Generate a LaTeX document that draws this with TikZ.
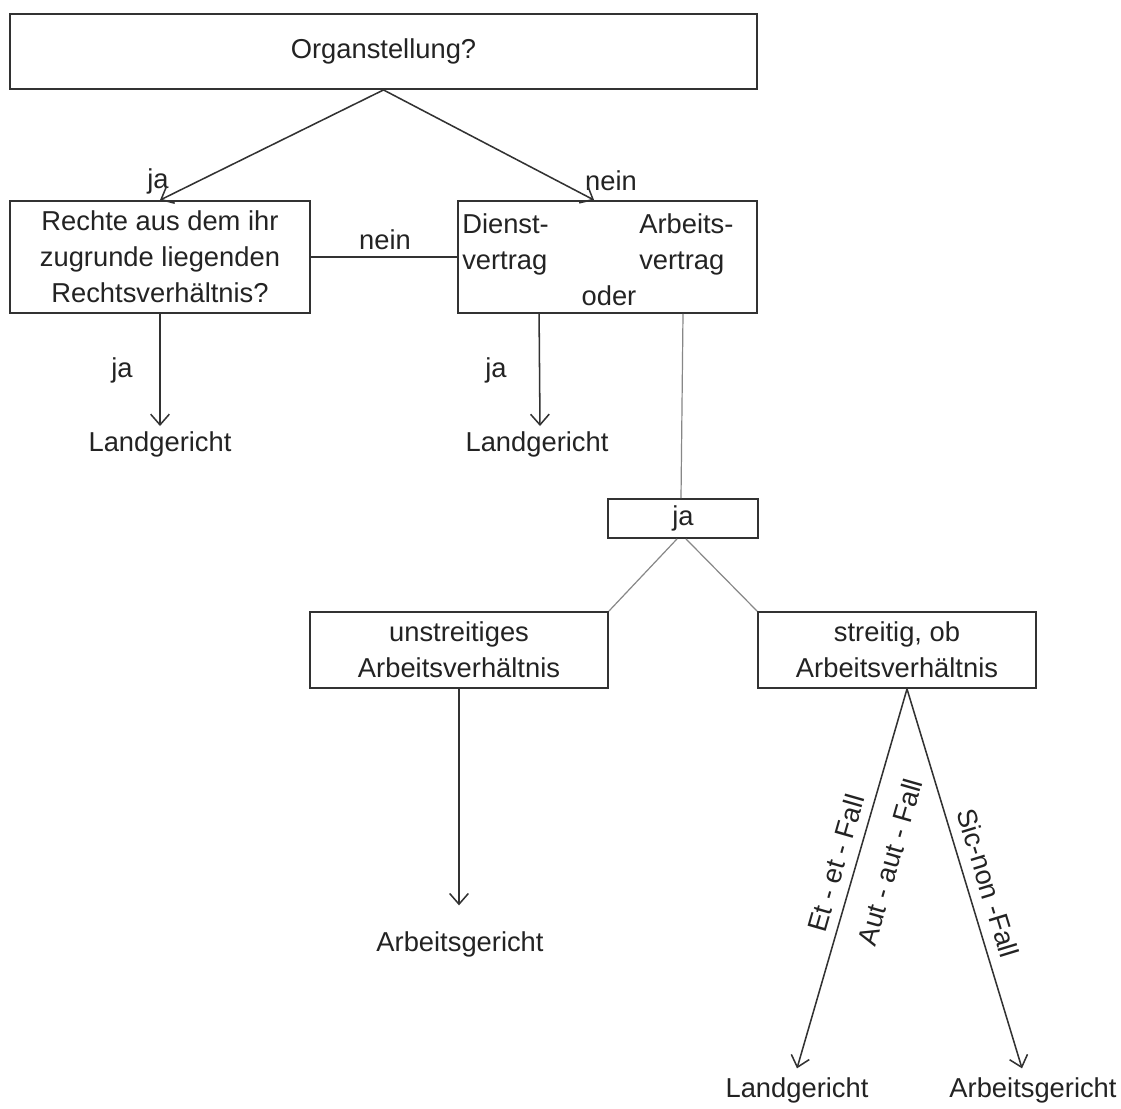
\documentclass[tikz,border=0pt]{standalone}
\usepackage{fontspec}
\setmainfont{Liberation Sans}
\usetikzlibrary{arrows.meta,calc}
\definecolor{txt}{RGB}{35,35,35}
\definecolor{boxc}{RGB}{50,50,50}
\definecolor{linec}{RGB}{50,50,50}
\definecolor{thinc}{RGB}{135,135,135}
\newcommand\myfs{\fontsize{20.5}{27}\selectfont}
\begin{document}
\begin{tikzpicture}[x=0.75pt,y=-0.75pt,
  box/.style={draw=boxc, line width=1.4pt, inner sep=0pt, align=center, font=\myfs, text=txt},
  lbl/.style={font=\myfs, text=txt, inner sep=2pt},
  rlbl/.style={font=\myfs, text=txt, inner sep=0pt},
  arr/.style={draw=linec, line width=1.15pt, -{Straight Barb[length=8pt,width=14pt]}},
  plain/.style={draw=linec, line width=1.15pt},
  thinl/.style={draw=thinc, line width=0.9pt}]
\fill[white] (0,0) rectangle (1121,1108);
\useasboundingbox (0,0) rectangle (1121,1108);

% boxes
\node[box, minimum width=560.25pt, minimum height=56.25pt] (b1) at (383.5,51.5) {Organstellung?};
\node[box, minimum width=225pt, minimum height=84pt] (b2) at (160,257) {Rechte aus dem ihr\\zugrunde liegenden\\Rechtsverhältnis?};
\node[box, minimum width=224.25pt, minimum height=84pt] (b3) at (607.5,257) {};
\node[lbl, inner sep=0pt, anchor=base west] (t1) at (462,233) {Dienst-};
\node[lbl, inner sep=0pt, anchor=base west] (t2) at (462,269) {vertrag};
\node[lbl, inner sep=0pt, anchor=base west] (t3) at (639,233) {Arbeits-};
\node[lbl, inner sep=0pt, anchor=base west] (t4) at (639,269) {vertrag};
\node[lbl, inner sep=0pt, anchor=base] (t5) at (609,305) {oder};

\node[box, minimum width=112.5pt, minimum height=29.25pt] (ja) at (683,518.5) {ja};
\node[box, minimum width=223.5pt, minimum height=57pt] (u) at (459,650) {unstreitiges\\Arbeitsverhältnis};
\node[box, minimum width=208.5pt, minimum height=57pt] (s) at (897,650) {streitig, ob\\Arbeitsverhältnis};

% end labels
\node[lbl, anchor=north, inner sep=4pt] (lg1) at (160,426) {Landgericht};
\node[lbl, anchor=north, inner sep=4pt] (lg2) at (537,426) {Landgericht};
\node[lbl] (ag1) at (460,944) {Arbeitsgericht};
\node[lbl] (lg3) at (797,1090) {Landgericht};
\node[lbl] (ag2) at (1033,1090) {Arbeitsgericht};

% edge labels
\node[lbl] (ja1) at (158,181) {ja};
\node[lbl] (nein1) at (611,181) {nein};
\node[lbl] (nein2) at (385,240) {nein};
\node[lbl] (ja2) at (122,370) {ja};
\node[lbl] (ja3) at (496,370) {ja};
\node[rlbl, rotate=74] (l1) at (836,863) {Et - et - Fall};
\node[rlbl, rotate=74] (l2) at (890,862) {Aut - aut - Fall};
\node[rlbl, rotate=-73] (l3) at (988,883) {Sic-non -Fall};

% connectors
\draw[arr] (b1.south) -- (b2.north);
\draw[arr] (b1.south) -- ($(b3.north west)+(137,0)$);
\draw[plain] (b2.east) -- (b3.west);
\draw[arr] (b2.south) -- (lg1.north);
\draw[arr] ($(b3.south west)+(82,0)$) -- ($(lg2.north)+(3,0)$);
\draw[thinl] (ja.north |- b3.south) -- ($(ja.north)+(-2,0)$);
\draw[thinl] ($(ja.south)+(-6,0)$) -- (u.north east);
\draw[thinl] ($(ja.south)+(3,0)$) -- (s.north west);
\draw[arr] (u.south) -- ($(ag1.north)+(-1,-23)$);
\draw[arr] ($(s.south)+(10,0)$) -- ($(lg3.north)+(0,-6)$);
\draw[arr] ($(s.south)+(10,0)$) -- ($(ag2.north)+(-11,-6)$);
\end{tikzpicture}
\end{document}
